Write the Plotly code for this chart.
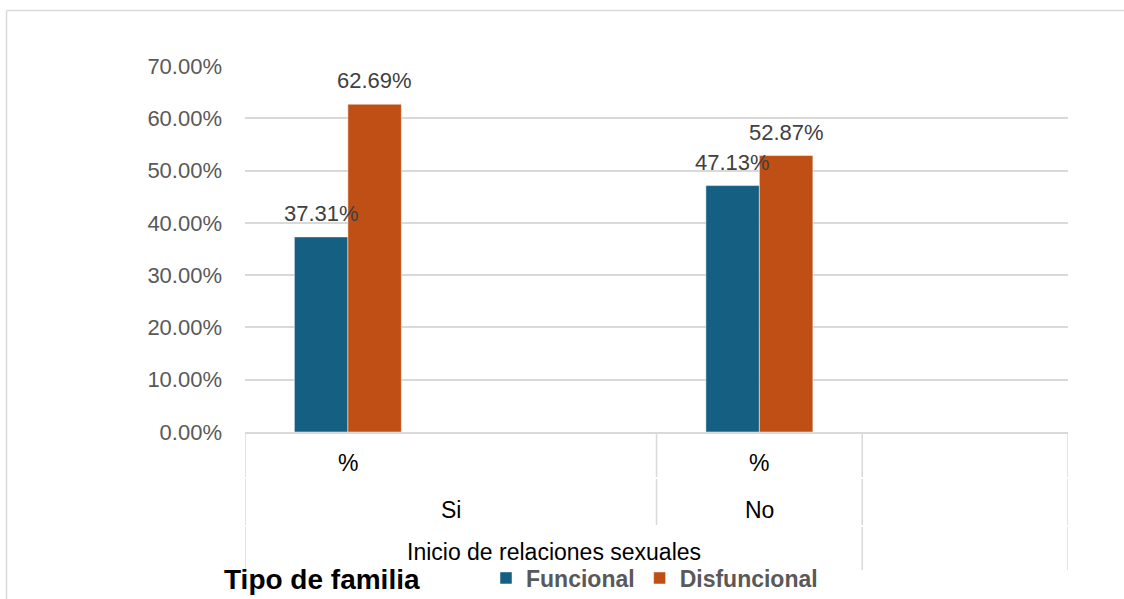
import plotly.graph_objects as go

# ---------------- data ----------------
level1_labels = ["%", "", "%", ""]                 # innermost category level (4 slots)
level2_labels = ["Si", "No"]                        # middle level
level2_spans = [(0, 1), (2, 2)]                     # slot ranges covered
level3_labels = ["Inicio de relaciones sexuales"]   # outer level
level3_spans = [(0, 2)]
series_names = ["Funcional", "Disfuncional"]
bar_slots = [0, 2]
funcional = [0.3731, 0.4713]
disfuncional = [0.6269, 0.5287]
y_ticks = [0.0, 0.1, 0.2, 0.3, 0.4, 0.5, 0.6, 0.7]
legend_title = "Tipo de familia"

# ---------------- style ----------------
W, H = 1124, 599
L, R, T, B = 245, 56, 66, 167
PW, PH = W - L - R, H - T - B
colors = ["#156082", "#C04F15"]
grid = "#D9D9D9"
bar_w = 0.26
font_fam = "Liberation Sans, Arial, sans-serif"


def px_x(px):
    return (px - L) / PW


def px_y(py):
    return (H - B - py) / PH


fig = go.Figure()
series = [funcional, disfuncional]
offsets = [-bar_w, 0.0]
for name, vals, col, off in zip(series_names, series, colors, offsets):
    fig.add_trace(go.Bar(
        x=bar_slots, y=vals, name=name, width=bar_w, offset=off,
        marker=dict(color=col, line=dict(color="rgba(255,255,255,0.6)", width=0.8)),
        hoverinfo="y",
    ))

annotations = []
# data labels
for vals, off in zip(series, offsets):
    for s, v in zip(bar_slots, vals):
        annotations.append(dict(
            x=s + off + bar_w / 2, y=v, xref="x", yref="y",
            text=f"{v*100:.2f}%", showarrow=False, yanchor="bottom", yshift=9,
            font=dict(size=22, color="#404040", family=font_fam),
        ))

cat_font = dict(size=23, color="#000000", family=font_fam)
# level 1 labels
for i, lab in enumerate(level1_labels):
    if lab:
        annotations.append(dict(x=i, y=px_y(463), xref="x", yref="paper", text=lab,
                                showarrow=False, yanchor="middle", font=cat_font))
# level 2 labels
for lab, (a, b) in zip(level2_labels, level2_spans):
    annotations.append(dict(x=(a + b) / 2, y=px_y(510), xref="x", yref="paper", text=lab,
                            showarrow=False, yanchor="middle", font=cat_font))
# level 3 labels
for lab, (a, b) in zip(level3_labels, level3_spans):
    annotations.append(dict(x=(a + b) / 2, y=px_y(552), xref="x", yref="paper", text=lab,
                            showarrow=False, yanchor="middle", font=cat_font))
# legend title
annotations.append(dict(x=px_x(222), y=px_y(579), xref="paper", yref="paper",
                        text=f"<b>{legend_title}</b>", showarrow=False,
                        xanchor="left", yanchor="middle",
                        font=dict(size=28, color="#000000", family=font_fam)))

shapes = []
line_style = dict(color=grid, width=1.5)
# category dividers (segments per level)
segs_full = [(432, 477), (479, 525), (527, 570)]
segs_inner = [(432, 477), (479, 525)]
for xb, segs in [(-0.5, segs_full), (1.5, segs_inner), (2.5, segs_full), (3.5, segs_full)]:
    for y0, y1 in segs:
        shapes.append(dict(type="line", xref="x", yref="paper", x0=xb, x1=xb,
                           y0=px_y(y0), y1=px_y(y1), line=line_style))
# chart outer border (top and left visible)
shapes.append(dict(type="line", xref="paper", yref="paper", x0=px_x(6.5), x1=px_x(W + 5),
                   y0=px_y(10.5), y1=px_y(10.5), line=line_style))
shapes.append(dict(type="line", xref="paper", yref="paper", x0=px_x(6.5), x1=px_x(6.5),
                   y0=px_y(10.5), y1=px_y(H + 5), line=line_style))

fig.update_layout(
    width=W, height=H,
    margin=dict(l=L, r=R, t=T, b=B, pad=0, autoexpand=False),
    paper_bgcolor="white", plot_bgcolor="white",
    barmode="overlay",
    showlegend=True,
    legend=dict(orientation="h", x=px_x(486), xanchor="left", y=px_y(578), yanchor="middle",
                font=dict(size=23, color="#595959", family=font_fam, weight="bold"),
                bgcolor="rgba(0,0,0,0)", itemclick=False, itemdoubleclick=False),
    xaxis=dict(range=[-0.5, 3.5], showticklabels=False, showgrid=False, zeroline=False,
               showline=True, linecolor=grid, linewidth=1.5, ticks="", fixedrange=True),
    yaxis=dict(range=[0, 0.7], tickvals=y_ticks, tickformat=".2%", showgrid=True,
               gridcolor=grid, gridwidth=1.5, zeroline=False, showline=False,
               tickfont=dict(size=22, color="#595959", family=font_fam), ticks="",
               ticklabelstandoff=22, fixedrange=True),
    annotations=annotations,
    shapes=shapes,
    font=dict(family=font_fam),
)

fig.write_html("out.html", config={"displayModeBar": False},
               post_script="document.body.style.margin='0';")
